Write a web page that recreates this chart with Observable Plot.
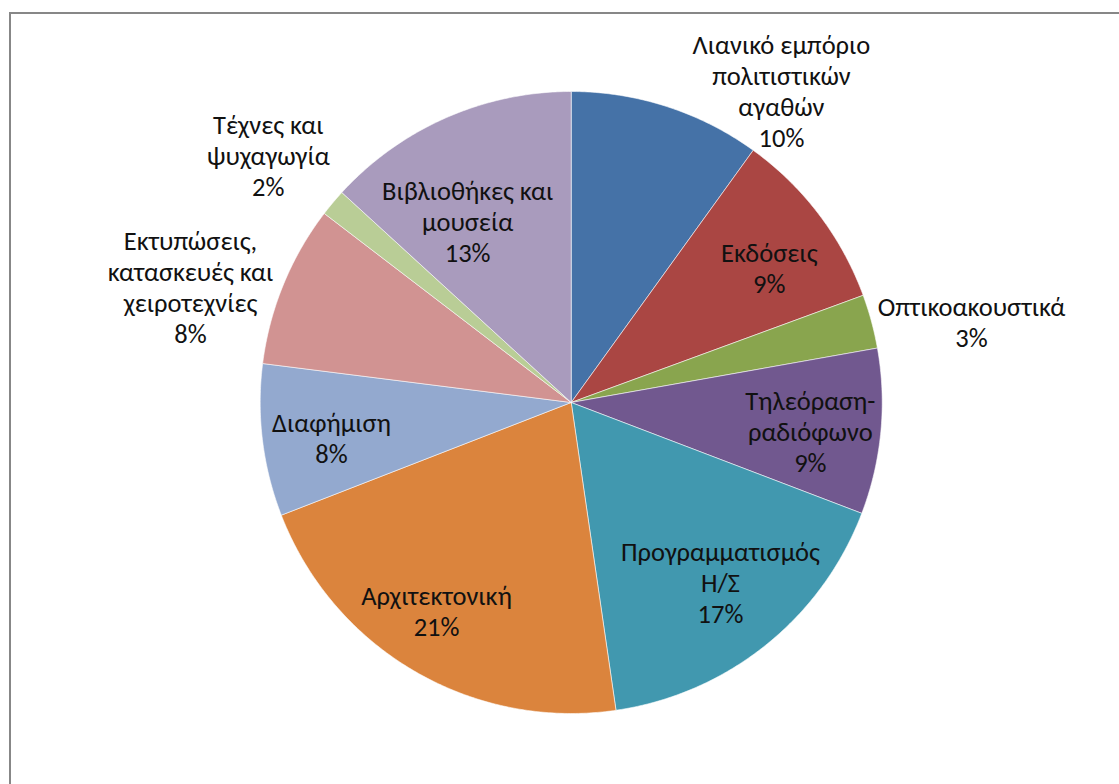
<!DOCTYPE html>
<html>
<head>
<meta charset="utf-8">
<script src="https://cdn.jsdelivr.net/npm/d3@7"></script>
<script src="https://cdn.jsdelivr.net/npm/@observablehq/plot@0.6"></script>
<style>
  html, body { margin: 0; padding: 0; background: #fff; overflow: hidden; }
  #wrap { position: relative; width: 1119px; height: 784px; }
  #frame { position: absolute; left: 9px; top: 12px; width: 1200px; height: 900px;
           border-left: 2px solid #878787; border-top: 2px solid #878787; }
  #chart { position: absolute; left: 0; top: 0; }
</style>
</head>
<body>
<div id="wrap"><div id="frame"></div><div id="chart"></div></div>
<script>
// Categories (clockwise from 12 o'clock)
const categories = [
  "Λιανικό εμπόριο πολιτιστικών αγαθών",
  "Εκδόσεις",
  "Οπτικοακουστικά",
  "Τηλεόραση-ραδιόφωνο",
  "Προγραμματισμός Η/Σ",
  "Αρχιτεκτονική",
  "Διαφήμιση",
  "Εκτυπώσεις, κατασκευές και χειροτεχνίες",
  "Τέχνες και ψυχαγωγία",
  "Βιβλιοθήκες και μουσεία"
];
// Shares (%)
const values = [9.95, 9.45, 2.8, 8.6, 16.9, 21.4, 7.9, 8.4, 1.4, 13.2];
// Percent labels as printed
const percentLabels = ["10%", "9%", "3%", "9%", "17%", "21%", "8%", "8%", "2%", "13%"];
// Label text with line breaks as displayed
const labelLines = [
  "Λιανικό εμπόριο\nπολιτιστικών\nαγαθών",
  "Εκδόσεις",
  "Οπτικοακουστικά",
  "Τηλεόραση-\nραδιόφωνο",
  "Προγραμματισμός\nΗ/Σ",
  "Αρχιτεκτονική",
  "Διαφήμιση",
  "Εκτυπώσεις,\nκατασκευές και\nχειροτεχνίες",
  "Τέχνες και\nψυχαγωγία",
  "Βιβλιοθήκες και\nμουσεία"
];
// Slice colours
const colors = ["#4572A7", "#AA4643", "#89A54E", "#71588F", "#4198AF",
                "#DB843D", "#93A9CF", "#D19392", "#B9CD96", "#A99BBD"];

// Layout (label anchor in pie-radius units, separate from data)
const labelPos = [
  [0.676, 1.003], [0.637, 0.434], [1.287, 0.260], [0.769, -0.093], [0.480, -0.576],
  [-0.433, -0.669], [-0.771, -0.113], [-1.224, 0.373], [-0.974, 0.794], [-0.333, 0.582]
];

// Build slice polygons from the values
const total = d3.sum(values);
const points = [];
let acc = 0;
values.forEach((v, i) => {
  const a0 = acc / total * 2 * Math.PI;
  acc += v;
  const a1 = acc / total * 2 * Math.PI;
  const name = categories[i];
  points.push({name, x: 0, y: 0});
  const n = Math.max(2, Math.ceil((a1 - a0) / (Math.PI / 360)));
  for (let k = 0; k <= n; k++) {
    const a = a0 + (a1 - a0) * k / n;
    points.push({name, x: Math.sin(a), y: Math.cos(a)});
  }
  points.push({name, x: 0, y: 0});
});

const labels = categories.map((c, i) => ({
  name: c,
  text: labelLines[i] + "\n" + percentLabels[i],
  x: labelPos[i][0],
  y: labelPos[i][1]
}));

const cx = 570.7, cy = 402, R = 311;
const plot = Plot.plot({
  width: 1119,
  height: 784,
  margin: 0,
  x: {domain: [-1, 1], range: [cx - R, cx + R], axis: null},
  y: {domain: [-1, 1], range: [cy + R, cy - R], axis: null},
  color: {domain: categories, range: colors},
  style: {fontFamily: "Carlito, Calibri, Lato, sans-serif", background: "transparent"},
  marks: [
    Plot.line(points, {x: "x", y: "y", z: "name", fill: "name", stroke: "white", strokeWidth: 0.8, strokeOpacity: 0.7}),
    Plot.text(labels, {x: "x", y: "y", text: "text", fontSize: 26.5, lineHeight: 1.17, fill: "#111", textAnchor: "middle"})
  ]
});
document.getElementById("chart").appendChild(plot);
</script>
</body>
</html>
